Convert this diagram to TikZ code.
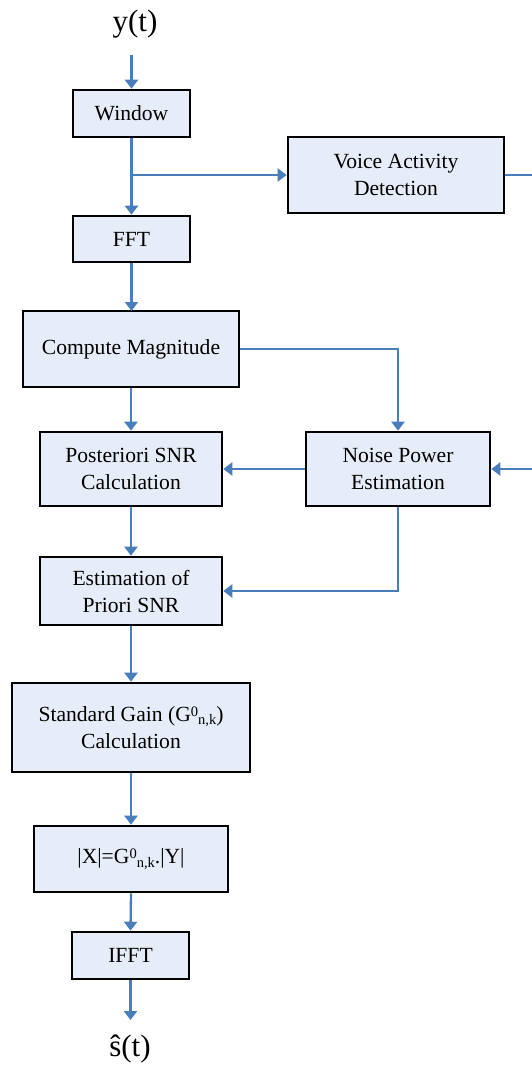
\documentclass[tikz,border=0pt]{standalone}
\usepackage{fontspec}
\setmainfont{Liberation Serif}
\usetikzlibrary{arrows.meta}

\definecolor{boxfill}{RGB}{231,237,248}
\definecolor{wire}{RGB}{74,126,187}

% raised / lowered indices in the style of a word processor
\newcommand{\upidx}[1]{\raisebox{0.55ex}{\fontsize{14.5}{14.5}\selectfont #1}}
\newcommand{\dnidx}[1]{\raisebox{-0.35ex}{\fontsize{14.5}{14.5}\selectfont #1}}

\tikzset{
  block/.style={draw=black, line width=2.6pt, fill=boxfill, align=center,
    inner sep=0pt, font=\fontsize{21.6}{27}\selectfont},
  flow/.style={draw=wire, line width=2.3pt,
    -{Triangle[width=13pt,length=9pt]}},
  plain/.style={draw=wire, line width=2.3pt},
  signal/.style={font=\fontsize{31}{31}\selectfont}
}

\begin{document}
\begin{tikzpicture}[x=1pt,y=-1pt]
\useasboundingbox (0,0) rectangle (532,1072);
\clip (0,0) rectangle (532,1072);

% blocks
\node[block, minimum width=117pt, minimum height=47pt] (win)  at (131.5,113.5) {Window};
\node[block, minimum width=216pt, minimum height=76pt] (vad)  at (396,175) {Voice Activity\\Detection};
\node[block, minimum width=117pt, minimum height=46pt] (fft)  at (131.5,239) {FFT};
\node[block, minimum width=216pt, minimum height=76pt] (cm)   at (131,349) {Compute Magnitude};
\node[block, minimum width=182pt, minimum height=74pt] (post) at (131,469) {Posteriori SNR\\Calculation};
\node[block, minimum width=184pt, minimum height=74pt] (np)   at (398,469) {Noise Power\\Estimation};
\node[block, minimum width=182pt, minimum height=68pt] (ep)   at (131,591) {Estimation of\\Priori SNR};
\node[block, minimum width=238pt, minimum height=89pt] (sg)   at (131,727.5)
  {Standard Gain (G\upidx{0}\dnidx{n,k})\\Calculation};
\node[block, minimum width=194pt, minimum height=66pt] (xg)   at (131,859)
  {|X|=G\upidx{0}\dnidx{n,k}.|Y|};
\node[block, minimum width=117pt, minimum height=47pt] (ifft) at (130.5,955.5) {IFFT};

% input and output signals
\node[signal] (yt) at (135,24) {y(t)};
\node[signal] (st) at (130,1049) {\^{s}(t)};
\coordinate (yin)   at (131.5,55);
\coordinate (sout)  at (130.5,1020);
\coordinate (split) at (131.5,175);
\coordinate (vadout) at (548,175);

% connectors
\draw[flow] (yin) -- (win.north);
\draw[flow] (win.south) -- (fft.north);
\draw[flow] (split) -- (vad.west);
\draw[plain] (vad.east) -- (vadout);
\draw[flow] (vadout) |- (np.east);
\draw[flow] (fft.south) -- (131.5,311);
\draw[flow] (cm.east) -| (np.north);
\draw[flow] (cm.south) -- (post.north);
\draw[flow] (np.west) -- (post.east);
\draw[flow] (post.south) -- (ep.north);
\draw[flow] (np.south) |- (ep.east);
\draw[flow] (ep.south) -- (sg.north);
\draw[flow] (sg.south) -- (xg.north);
\draw[flow] (xg.south) -- (ifft.north);
\draw[flow] (ifft.south) -- (sout);
\end{tikzpicture}
\end{document}
